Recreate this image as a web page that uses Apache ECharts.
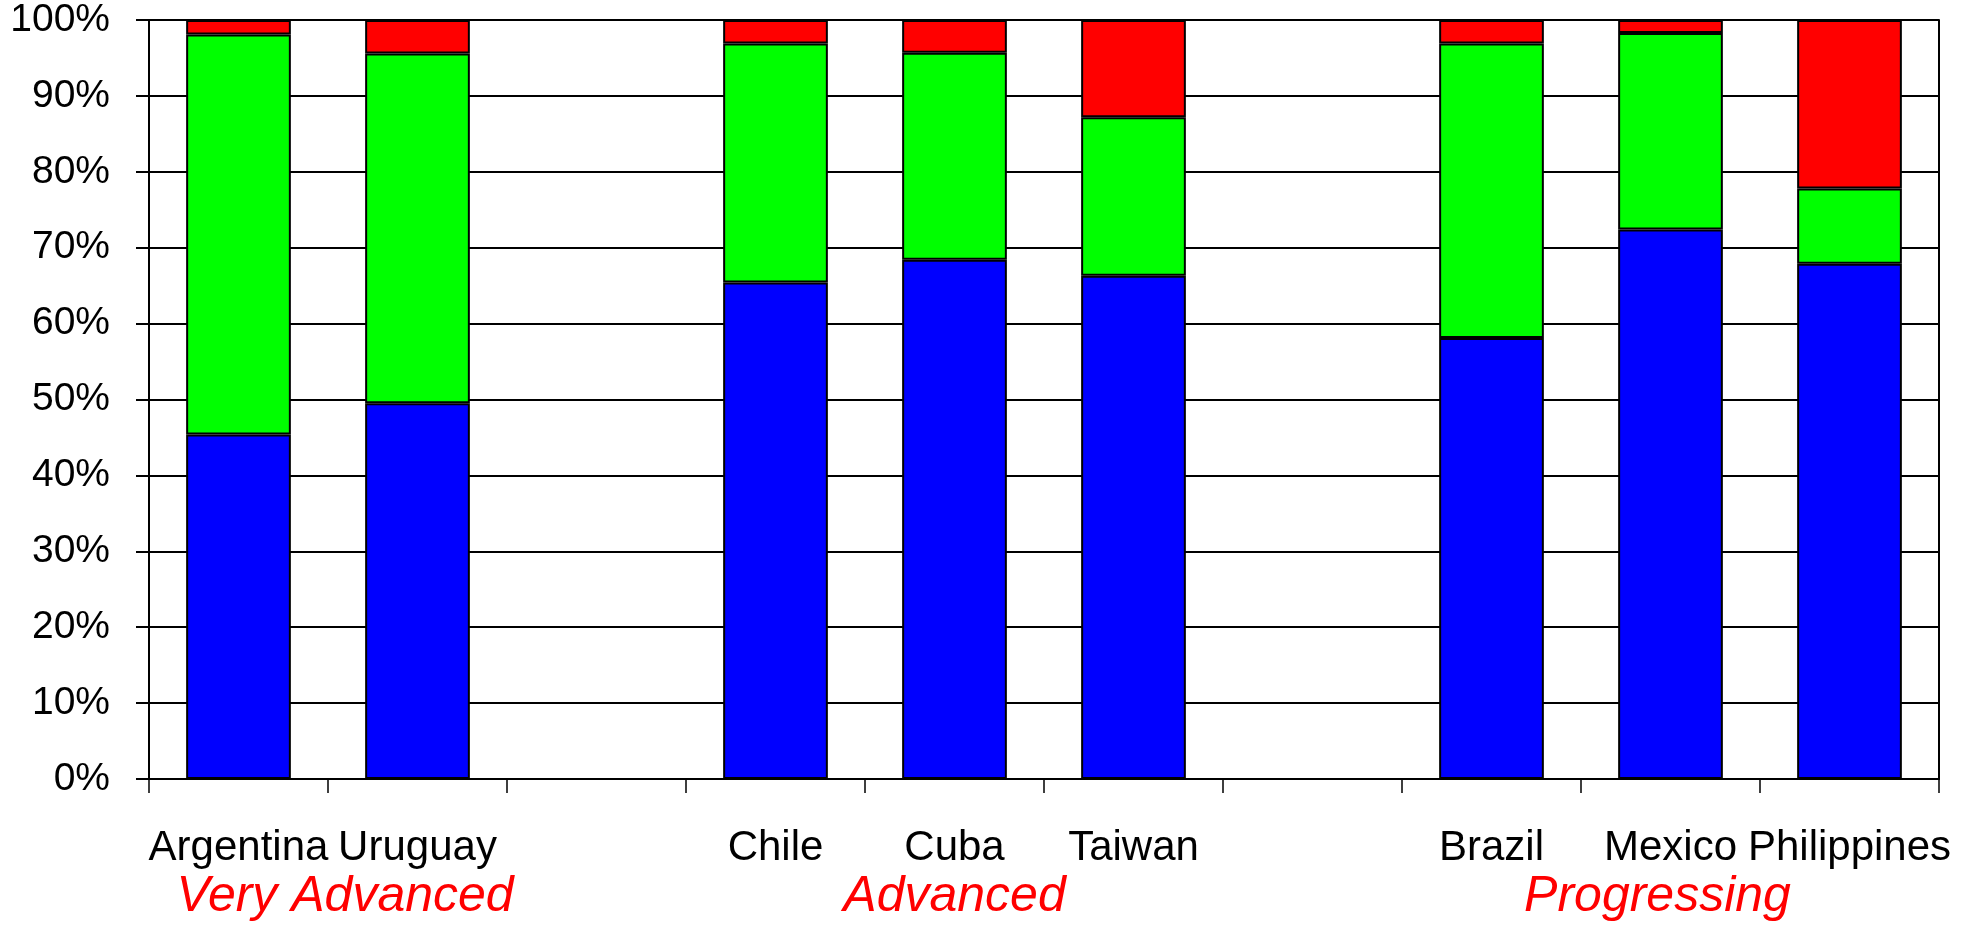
<!DOCTYPE html>
<html>
<head>
<meta charset="utf-8">
<title>Stacked shares by country</title>
<script src="https://cdn.jsdelivr.net/npm/echarts@6/dist/echarts.min.js"></script>
<style>
  html, body { margin: 0; padding: 0; background: #fff; }
  #chart { width: 1974px; height: 926px; }
</style>
</head>
<body>
<div id="chart"></div>
<script>
// Countries, with blank slots separating the three groups
const categories = ['Argentina', 'Uruguay', '', 'Chile', 'Cuba', 'Taiwan', '', 'Brazil', 'Mexico', 'Philippines'];

// Percentage shares per country (bottom to top)
const blueShare  = [45.4, 49.5, null, 65.4, 68.4, 66.3, null, 58.1, 72.4, 67.9];
const greenShare = [52.7, 46.1, null, 31.5, 27.3, 20.9, null, 38.8, 25.9,  9.9];
const redShare   = [ 1.9,  4.4, null,  3.1,  4.3, 12.8, null,  3.1,  1.7, 22.2];

// Group captions and the category range each one covers
const groupNames = ['Very Advanced', 'Advanced', 'Progressing'];
const groupFirst = ['Argentina', 'Chile', 'Brazil'];
const groupLast  = ['Uruguay', 'Taiwan', 'Philippines'];

// Y tick labels
const yTicks = [0, 10, 20, 30, 40, 50, 60, 70, 80, 90, 100];

const FONT = '"Liberation Sans", Arial, sans-serif';
const chart = echarts.init(document.getElementById('chart'), null, { renderer: 'canvas' });

const barStyle = (color) => ({ color: color, borderColor: '#000', borderWidth: 2 });
const axisLine = { show: true, lineStyle: { color: '#000', width: 2 } };

chart.setOption({
  animation: false,
  backgroundColor: '#fff',
  grid: { left: 149, right: 35, top: 20, bottom: 147, containLabel: false },
  xAxis: {
    type: 'category',
    data: categories,
    boundaryGap: true,
    axisLine: axisLine,
    axisTick: { show: true, interval: 0, length: 14, lineStyle: { color: '#000', width: 1.5 } },
    axisLabel: {
      interval: 0, margin: 48, color: '#000',
      fontFamily: FONT, fontSize: 42
    },
    splitLine: { show: false }
  },
  yAxis: [
    {
      type: 'value', min: yTicks[0], max: yTicks[yTicks.length - 1], interval: 10,
      axisLine: axisLine,
      axisTick: { show: true, length: 13, lineStyle: { color: '#000', width: 2 } },
      axisLabel: {
        margin: 39, color: '#000', fontFamily: FONT, fontSize: 39,
        padding: [6, 0, 0, 0],
        formatter: (v) => v + '%'
      },
      splitLine: { show: true, lineStyle: { color: '#000', width: 2 } }
    },
    {
      // plot-area border on the right
      type: 'value', position: 'right', min: 0, max: 100, interval: 10,
      axisLine: axisLine,
      axisTick: { show: false }, axisLabel: { show: false }, splitLine: { show: false }
    }
  ],
  series: [
    { name: 'Blue',  type: 'bar', stack: 'share', data: blueShare,  barWidth: '58.5%', itemStyle: barStyle('#0000FF') },
    { name: 'Green', type: 'bar', stack: 'share', data: greenShare, barWidth: '58.5%', itemStyle: barStyle('#00FF00') },
    { name: 'Red',   type: 'bar', stack: 'share', data: redShare,   barWidth: '58.5%', itemStyle: barStyle('#FF0000') }
  ]
});

// Group captions centred under the countries they span
const nudge = [17, 0, -13];
const captions = groupNames.map((name, i) => {
  const x0 = chart.convertToPixel({ xAxisIndex: 0 }, groupFirst[i]);
  const x1 = chart.convertToPixel({ xAxisIndex: 0 }, groupLast[i]);
  return {
    type: 'text',
    x: (x0 + x1) / 2 + nudge[i],
    y: 897,
    style: {
      text: name, fill: '#FF0000',
      font: 'italic 50px ' + FONT,
      textAlign: 'center', textVerticalAlign: 'middle'
    }
  };
});
chart.setOption({ graphic: captions });
</script>
</body>
</html>
